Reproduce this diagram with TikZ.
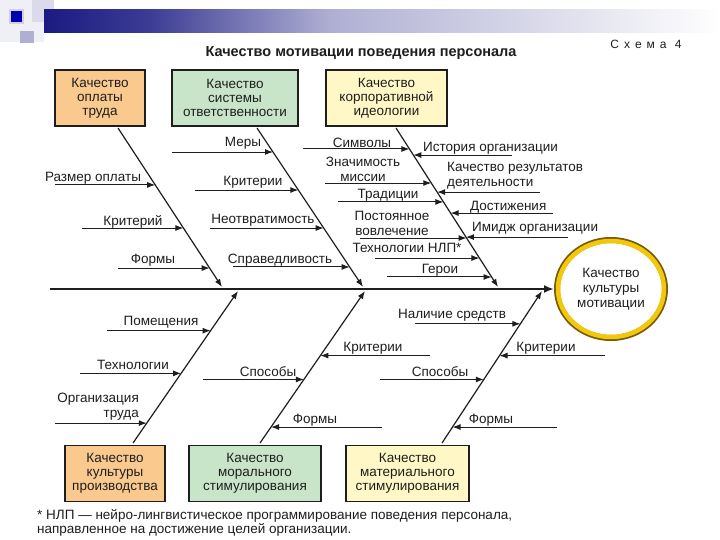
\documentclass[tikz,border=0pt]{standalone}
\usepackage{fontspec}
\setmainfont{Liberation Sans}
\usetikzlibrary{arrows.meta,shapes.geometric,calc}

\definecolor{boxorange}{RGB}{249,201,142}
\definecolor{boxgreen}{RGB}{201,229,201}
\definecolor{boxyellow}{RGB}{255,248,198}
\definecolor{ringgold}{RGB}{244,200,10}
\definecolor{ringdark}{RGB}{120,90,10}
\definecolor{slidenavy}{RGB}{26,26,130}
\definecolor{ink}{RGB}{30,30,30}

\tikzset{
  factor/.style={draw=ink, line width=1.2pt, minimum height=56pt,
    align=center, font=\fontsize{13.5}{14}\selectfont, text=ink, inner sep=1pt},
  spine/.style={draw=ink, line width=2.5pt, -{Latex[length=10pt,width=8pt]}},
  bone/.style={draw=ink, line width=1.2pt, -{Latex[length=8pt,width=6pt]}},
  twig/.style={draw=ink, line width=1pt, -{Latex[length=8pt,width=6pt]}},
  lbl/.style={font=\fontsize{13.5}{15}\selectfont, text=ink, inner sep=0pt, align=center},
}

\begin{document}
\begin{tikzpicture}[x=1pt, y=-1pt]
  \useasboundingbox (0,0) rectangle (720,540);
  \fill[white] (0,0) rectangle (720,540);

  %% Slide header band
  \fill[slidenavy!7] (0,0) rectangle (44,42);
  \fill[slidenavy!16] (32,0) rectangle (54,22);
  \fill[slidenavy!35] (20,31) rectangle (34,43);
  \fill[slidenavy!20] (9,9) rectangle (24,24);
  \fill[blue!70!black] (11,11) rectangle (22,22);
  \shade[left color=slidenavy, right color=slidenavy!85] (44,10) rectangle (150,33);
  \shade[left color=slidenavy!85, right color=slidenavy!35] (150,10) rectangle (330,33);
  \shade[left color=slidenavy!35, right color=white] (330,10) rectangle (720,33);

  %% Title
  \node[font=\fontsize{14.5}{16}\selectfont\bfseries, text=ink] (title) at (361,53)
    {Качество мотивации поведения персонала};
  \node[font=\fontsize{12}{14}\selectfont, text=ink] (scheme) at (646,44)
    {С\kern5pt х\kern5pt е\kern5pt м\kern5pt а\kern5pt\ 4};

  %% Factor boxes
  \node[factor, fill=boxorange, minimum width=90pt] (q1) at (100,98) {Качество\\оплаты\\труда};
  \node[factor, fill=boxgreen, minimum width=126pt] (q2) at (235,98) {Качество\\системы\\ответственности};
  \node[factor, fill=boxyellow, minimum width=121pt] (q3) at (386.5,98) {Качество\\корпоративной\\идеологии};
  \node[factor, fill=boxorange, minimum width=100pt] (q4) at (115,473.5) {Качество\\культуры\\производства};
  \node[factor, fill=boxgreen, minimum width=132pt] (q5) at (255,473.5) {Качество\\морального\\стимулирования};
  \node[factor, fill=boxyellow, minimum width=123pt] (q6) at (407.5,473.5) {Качество\\материального\\стимулирования};

  %% Goal
  \node[ellipse, fill=white, draw=ringdark, line width=6pt, minimum width=108pt,
    minimum height=98pt, align=center, font=\fontsize{13.5}{15}\selectfont, text=ink]
    (goal) at (611,289) {Качество\\культуры\\мотивации};
  \draw[ringgold, line width=4.5pt] (goal.center) ellipse [x radius=53pt, y radius=48pt];

  %% Spine and bones
  \coordinate (sp) at (50,289);
  \draw[spine] (sp) -- (goal.west);

  \coordinate (b1-a) at (118,128); \coordinate (b1-z) at (222,287);
  \coordinate (b2-a) at (257,128); \coordinate (b2-z) at (363,287);
  \coordinate (b3-a) at (396,128); \coordinate (b3-z) at (498,287);
  \coordinate (b4-a) at (133,443); \coordinate (b4-z) at (238,291);
  \coordinate (b5-a) at (260,443); \coordinate (b5-z) at (365,291);
  \coordinate (b6-a) at (442,443); \coordinate (b6-z) at (542,291);
  \foreach \b in {b1,b2,b3,b4,b5,b6}
    \draw[bone] (\b-a) -- (\b-z);

  %% Branches: bone / position on bone / free end x
  \foreach \bone/\p/\fx [count=\i] in {
      b1/0.358/55, b1/0.629/82, b1/0.881/118,
      b2/0.151/172, b2/0.390/195, b2/0.629/210, b2/0.874/233,
      b3/0.132/303, b3/0.346/325, b3/0.465/338, b3/0.692/360, b3/0.818/375, b3/0.937/387,
      b3/0.170/512, b3/0.403/540, b3/0.535/553, b3/0.686/568,
      b4/0.739/107, b4/0.458/80, b4/0.131/55,
      b5/0.575/430, b5/0.418/203, b5/0.105/382,
      b6/0.784/415, b6/0.575/605, b6/0.418/380, b6/0.105/557}
  {
    \coordinate (t\i) at ($(\bone-a)!\p!(\bone-z)$);
    \coordinate (u\i) at (t\i -| \fx,0);
    \draw[twig] (u\i) -- (t\i);
  }

  %% Labels, upper half
  \node[lbl] (pay) at (93,178) {Размер оплаты};
  \node[lbl] (crit1) at (133,222) {Критерий};
  \node[lbl] (form1) at (153,260) {Формы};
  \node[lbl] (meas) at (243,143) {Меры};
  \node[lbl] (crit2) at (253,182) {Критерии};
  \node[lbl] (inev) at (263,220) {Неотвратимость};
  \node[lbl] (just) at (280,260) {Справедливость};
  \node[lbl] (symb) at (362,143) {Символы};
  \node[lbl] (miss) at (363,169) {Значимость\\миссии};
  \node[lbl] (trad) at (388,195) {Традиции};
  \node[lbl] (invol) at (392,223) {Постоянное\\вовлечение};
  \node[lbl] (nlp) at (407,248) {Технологии НЛП*};
  \node[lbl] (hero) at (440,270) {Герои};
  \node[lbl, anchor=west] (hist) at (423,148) {История организации};
  \node[lbl, anchor=west, align=left] (resl) at (447,176) {Качество результатов\\деятельности};
  \node[lbl, anchor=west] (achv) at (470,207) {Достижения};
  \node[lbl, anchor=west] (imag) at (472,228) {Имидж организации};

  %% Labels, lower half
  \node[lbl] (room) at (161,322) {Помещения};
  \node[lbl] (tech) at (133,365) {Технологии};
  \node[lbl, align=right, anchor=east] (orgw) at (139,407) {Организация\\труда};
  \node[lbl] (way5) at (268,372) {Способы};
  \node[lbl] (crit5) at (373,348) {Критерии};
  \node[lbl] (form5) at (315,420) {Формы};
  \node[lbl] (fund) at (452,315) {Наличие средств};
  \node[lbl] (crit6) at (546,348) {Критерии};
  \node[lbl] (way6) at (440,372) {Способы};
  \node[lbl] (form6) at (491,420) {Формы};

  %% Footnote
  \node[lbl, anchor=north west, align=left, font=\fontsize{13.5}{14}\selectfont] (note) at (37,509)
    {* НЛП — нейро-лингвистическое программирование поведения персонала,\\
     направленное на достижение целей организации.};
\end{tikzpicture}
\end{document}
